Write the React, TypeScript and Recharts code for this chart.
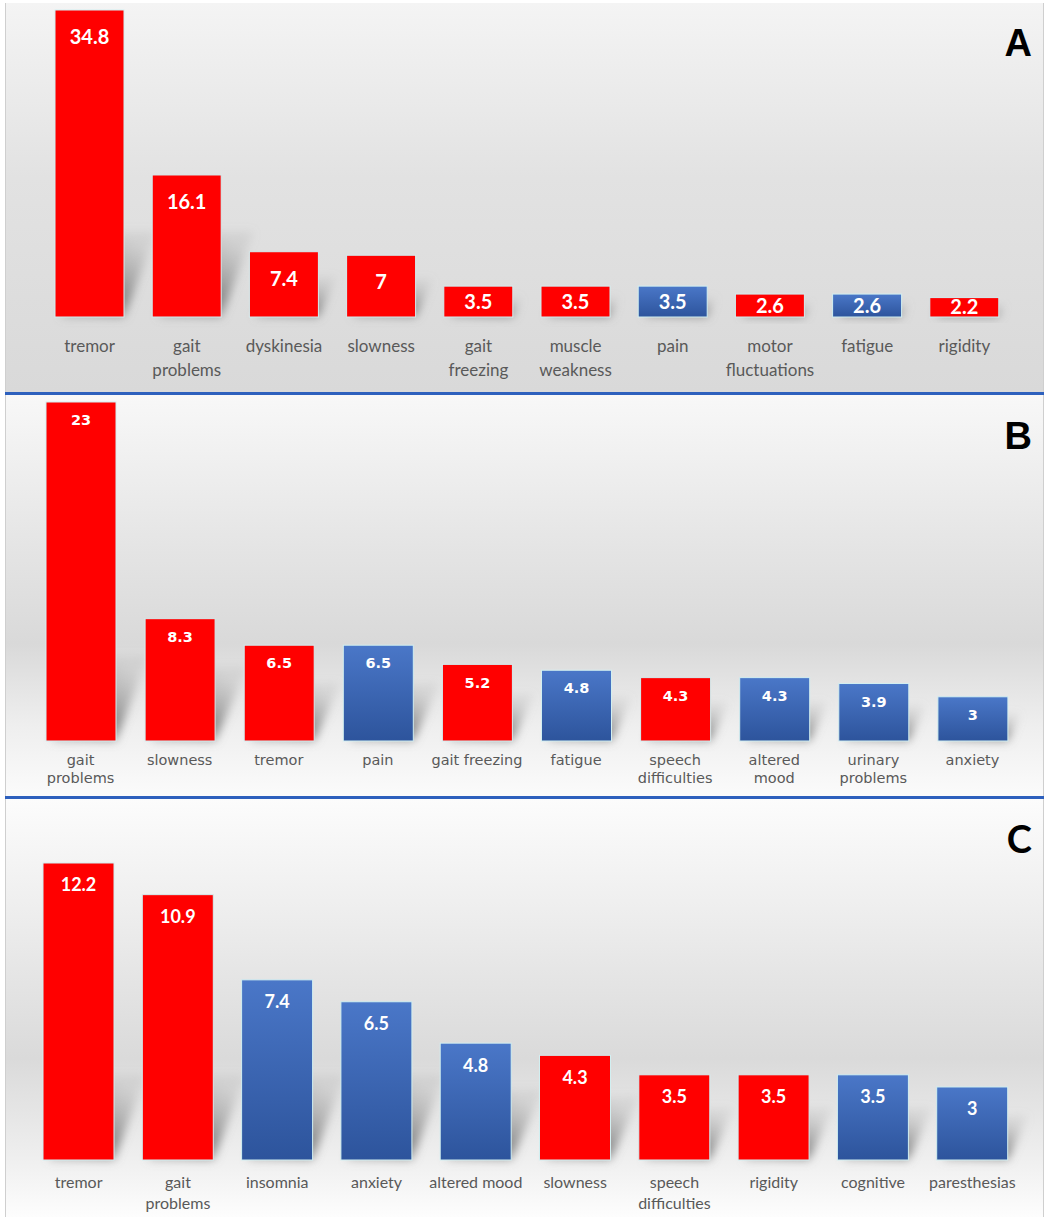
import React from "react";
import { BarChart, Bar, XAxis, YAxis, Cell, LabelList } from "recharts";

// panel A
const symptomsA = ["tremor", "gait\nproblems", "dyskinesia", "slowness", "gait\nfreezing", "muscle\nweakness", "pain", "motor\nfluctuations", "fatigue", "rigidity"];
const percentA = [34.8, 16.1, 7.4, 7, 3.5, 3.5, 3.5, 2.6, 2.6, 2.2];
const motorA = [true, true, true, true, true, true, false, true, false, true];

// panel B
const symptomsB = ["gait\nproblems", "slowness", "tremor", "pain", "gait freezing", "fatigue", "speech\ndifficulties", "altered\nmood", "urinary\nproblems", "anxiety"];
const percentB = [23, 8.3, 6.5, 6.5, 5.2, 4.8, 4.3, 4.3, 3.9, 3];
const motorB = [true, true, true, false, true, false, true, false, false, false];

// panel C
const symptomsC = ["tremor", "gait\nproblems", "insomnia", "anxiety", "altered mood", "slowness", "speech\ndifficulties", "rigidity", "cognitive", "paresthesias"];
const percentC = [12.2, 10.9, 7.4, 6.5, 4.8, 4.3, 3.5, 3.5, 3.5, 3];
const motorC = [true, true, false, false, false, true, true, true, false, false];

const RED = "#ff0000";

function ShadowBar(props: any) {
  const { x, y, width, height, fill, shadowId, shadeId } = props;
  if (!height || height <= 0) return null;
  const bottom = y + height;
  const sh = Math.min(height * 0.6, 85);
  const d = Math.min(sh * 0.45, 32);
  return (
    <g>
      <polygon
        points={`${x + 6},${bottom} ${x + width},${bottom} ${x + width + d},${bottom - sh} ${x + d + 6},${bottom - sh}`}
        fill={`url(#${shadeId})`}
        filter={`url(#${shadowId})`}
      />
      <rect x={x} y={y} width={width} height={height} fill={fill} stroke="#d2eff1" strokeWidth={1} />
    </g>
  );
}

function makeTick(font: string, size: number, first: number, lineH: number) {
  return (props: any) => {
    const { x, y, payload } = props;
    const lines = String(payload.value).split("\n");
    return (
      <text x={x} y={y + first} textAnchor="middle" fill="#595959" fontFamily={font} fontSize={size}>
        {lines.map((l, i) => (
          <tspan key={i} x={x} dy={i === 0 ? 0 : lineH}>
            {l}
          </tspan>
        ))}
      </text>
    );
  };
}

function makeValueLabel(font: string, size: number, offset: number) {
  return (props: any) => {
    const { x, y, width, height, value } = props;
    const cy = y + Math.min(offset, height / 2);
    return (
      <text
        x={x + width / 2}
        y={cy}
        dy="0.36em"
        textAnchor="middle"
        fill="#ffffff"
        fontWeight="bold"
        fontFamily={font}
        fontSize={size}
      >
        {value}
      </text>
    );
  };
}

type PanelProps = {
  id: string;
  labels: string[];
  values: number[];
  motor: boolean[];
  top: number;
  height: number;
  plotTop: number;
  baseline: number;
  left: number;
  right: number;
  barSize: number;
  background: string;
  letter: string;
  letterFont: string;
  letterTop: number;
  tickFont: string;
  tickSize: number;
  tickFirst: number;
  tickLine: number;
  valueFont: string;
  valueSize: number;
  valueOffset: number;
};

function Panel(p: PanelProps) {
  const rows = p.labels.map((label, i) => ({ label, value: p.values[i], motor: p.motor[i] }));
  const max = Math.max(...p.values);
  const blueId = `blue-${p.id}`;
  const shadowId = `shadow-${p.id}`;
  const shadeId = `shade-${p.id}`;
  return (
    <div
      style={{
        position: "absolute",
        left: 5,
        top: p.top,
        width: 1039,
        height: p.height,
        background: p.background,
        borderLeft: "1px solid #cfcfcf",
        borderRight: "1px solid #cfcfcf",
        boxSizing: "border-box",
      }}
    >
      <div style={{ position: "absolute", left: -5, top: 0 }}>
        <BarChart
          width={1052}
          height={p.height}
          data={rows}
          margin={{ top: p.plotTop - p.top, right: p.right, bottom: 0, left: p.left }}
        >
          <defs>
            <linearGradient id={blueId} x1="0" y1="0" x2="0" y2="1">
              <stop offset="0%" stopColor="#4a77c8" />
              <stop offset="100%" stopColor="#2d549c" />
            </linearGradient>
            <linearGradient id={shadeId} x1="0" y1="1" x2="0.6" y2="0">
              <stop offset="0%" stopColor="#8a8a8a" stopOpacity={0.45} />
              <stop offset="45%" stopColor="#777777" stopOpacity={0.8} />
              <stop offset="100%" stopColor="#999999" stopOpacity={0.2} />
            </linearGradient>
            <filter id={shadowId} x="-50%" y="-50%" width="200%" height="200%">
              <feGaussianBlur stdDeviation="5" />
            </filter>
          </defs>
          <XAxis
            dataKey="label"
            interval={0}
            axisLine={false}
            tickLine={false}
            tickSize={0}
            tickMargin={0}
            height={p.top + p.height - p.baseline}
            tick={makeTick(p.tickFont, p.tickSize, p.tickFirst, p.tickLine)}
          />
          <YAxis hide domain={[0, max]} />
          <Bar
            dataKey="value"
            barSize={p.barSize}
            isAnimationActive={false}
            shape={(sp: any) => <ShadowBar {...sp} shadowId={shadowId} shadeId={shadeId} />}
          >
            {rows.map((r, i) => (
              <Cell key={i} fill={r.motor ? RED : `url(#${blueId})`} />
            ))}
            <LabelList dataKey="value" content={makeValueLabel(p.valueFont, p.valueSize, p.valueOffset)} />
          </Bar>
        </BarChart>
      </div>
      <div
        style={{
          position: "absolute",
          right: 11,
          top: p.letterTop - p.top,
          fontFamily: p.letterFont,
          fontWeight: "bold",
          fontSize: 38,
          lineHeight: "38px",
          color: "#000",
        }}
      >
        {p.letter}
      </div>
    </div>
  );
}

export default function App() {
  return (
    <div style={{ position: "relative", width: 1052, height: 1221, background: "#ffffff", overflow: "hidden" }}>
      <style>{"body{margin:0}"}</style>
      <Panel
        id="a"
        labels={symptomsA}
        values={percentA}
        motor={motorA}
        top={3}
        height={389}
        plotTop={10}
        baseline={317}
        left={40}
        right={40}
        barSize={69}
        background="linear-gradient(#f4f4f4 0%, #e2e2e2 45%, #d9d9d9 100%)"
        letter="A"
        letterFont="'Liberation Sans', Arial, sans-serif"
        letterTop={24}
        tickFont="Lato, sans-serif"
        tickSize={17}
        tickFirst={35}
        tickLine={24}
        valueFont="Lato, sans-serif"
        valueSize={20}
        valueOffset={27}
      />
      <div style={{ position: "absolute", left: 5, top: 392, width: 1039, height: 3, background: "#2d60bd" }} />
      <Panel
        id="b"
        labels={symptomsB}
        values={percentB}
        motor={motorB}
        top={395}
        height={401}
        plotTop={402}
        baseline={741}
        left={30}
        right={31}
        barSize={70}
        background="linear-gradient(#f8f8f8 0%, #e6e6e6 35%, #d9d9d9 62%, #eeeeee 82%, #fbfbfb 100%)"
        letter="B"
        letterFont="'Liberation Sans', Arial, sans-serif"
        letterTop={417}
        tickFont="'DejaVu Sans', Verdana, sans-serif"
        tickSize={14.5}
        tickFirst={24}
        tickLine={18}
        valueFont="'DejaVu Sans', Verdana, sans-serif"
        valueSize={14.5}
        valueOffset={18}
      />
      <div style={{ position: "absolute", left: 5, top: 796, width: 1039, height: 3, background: "#2d60bd" }} />
      <Panel
        id="c"
        labels={symptomsC}
        values={percentC}
        motor={motorC}
        top={799}
        height={418}
        plotTop={863}
        baseline={1160}
        left={28}
        right={31}
        barSize={71}
        background="linear-gradient(#fcfcfc 0%, #ececec 30%, #dadada 62%, #eeeeee 85%, #fdfdfd 100%)"
        letter="C"
        letterFont="Lato, sans-serif"
        letterTop={819}
        tickFont="Lato, sans-serif"
        tickSize={16}
        tickFirst={28}
        tickLine={21}
        valueFont="Lato, sans-serif"
        valueSize={18}
        valueOffset={22}
      />
    </div>
  );
}
